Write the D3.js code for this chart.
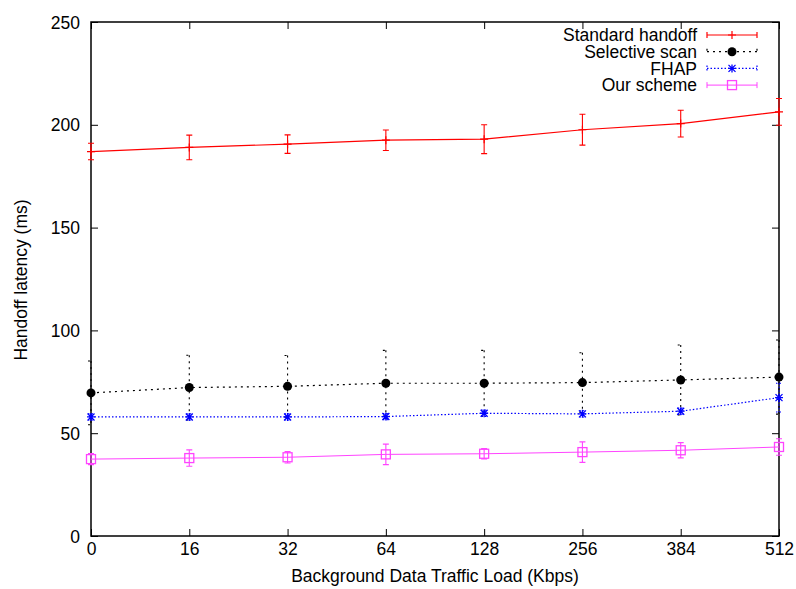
<!DOCTYPE html>
<html><head><meta charset="utf-8">
<script src="https://cdn.jsdelivr.net/npm/d3@7"></script>
<style>body{margin:0;background:#fff}svg{display:block}text{font-family:"Liberation Sans",Arial,sans-serif}</style>
</head><body><svg id="c" width="796" height="589"></svg>
<script>
const categories = ["0","16","32","64","128","256","384","512"];
const yTicks = [0,50,100,150,200,250];
const seriesNames = ["Standard handoff","Selective scan","FHAP","Our scheme"];
const standardVals = [187,189,190.6,192.5,193,197.6,200.6,206.3];
const standardErr  = [4,6,4.5,5,7,7.5,6.5,6.5];
const selectiveVals = [69.6,72.2,72.8,74.3,74.3,74.6,75.9,77.3];
const selectiveErr  = [15.5,15.7,15,16,16,14.5,17,18];
const fhapVals = [57.9,57.9,57.9,58.1,59.7,59.4,60.7,67.3];
const fhapErr  = [1.5,1.5,1.5,1.5,1.5,1.5,1.5,7];
const oursVals = [37.4,37.9,38.3,39.7,40,40.8,41.7,43.3];
const oursErr  = [2.7,4,2.8,5,2.5,5,3.7,4];

const FS = 17.5;
const svg = d3.select("#c");
const L=91,R=779,T=22,B=536;
const x = d3.scalePoint().domain(categories).range([L,R]);
const y = d3.scaleLinear().domain([0,250]).range([B,T]);

const series = [
  {name:seriesNames[0], vals:standardVals, err:standardErr, color:"#ff0000", dash:null, sym:"plus", width:1.2},
  {name:seriesNames[1], vals:selectiveVals, err:selectiveErr, color:"#000000", dash:"2,4", sym:"circle", width:1.2},
  {name:seriesNames[2], vals:fhapVals, err:fhapErr, color:"#0000ff", dash:"1.5,2", sym:"star", width:1.2},
  {name:seriesNames[3], vals:oursVals, err:oursErr, color:"#ff44ff", dash:null, sym:"square", width:1}
];

// axes
const gx = svg.append("g").attr("transform",`translate(0,${B})`)
  .call(d3.axisBottom(x).tickSize(-7).tickPadding(7));
const gxTop = svg.append("g").attr("transform",`translate(0,${T})`)
  .call(d3.axisTop(x).tickSize(-7).tickFormat(""));
const gy = svg.append("g").attr("transform",`translate(${L},0)`)
  .call(d3.axisLeft(y).tickValues(yTicks).tickSize(-7).tickPadding(11));
const gyR = svg.append("g").attr("transform",`translate(${R},0)`)
  .call(d3.axisRight(y).tickValues(yTicks).tickSize(-7).tickFormat(""));
[gx,gxTop,gy,gyR].forEach(g=>{g.select(".domain").remove();
  g.selectAll("text").attr("font-size",FS).attr("fill","#000").attr("font-family","Liberation Sans, Arial, sans-serif");
  g.selectAll("line").attr("stroke","#000");});
gy.selectAll("text").attr("dy","0.35em");
svg.append("rect").attr("x",L).attr("y",T).attr("width",R-L).attr("height",B-T)
  .attr("fill","none").attr("stroke","#000").attr("stroke-width",1.5);

svg.append("text").attr("x",(L+R)/2).attr("y",582).attr("text-anchor","middle").attr("font-size",FS).text("Background Data Traffic Load (Kbps)");
svg.append("text").attr("transform","translate(27,280) rotate(-90)").attr("text-anchor","middle").attr("font-size",FS).text("Handoff latency (ms)");

function symbol(g, s, cx, cy){
  if(s.sym==="plus"){
    g.append("path").attr("d",`M${cx-4},${cy}H${cx+4}M${cx},${cy-4}V${cy+4}`).attr("stroke",s.color).attr("stroke-width",1.2);
  } else if(s.sym==="circle"){
    g.append("circle").attr("cx",cx).attr("cy",cy).attr("r",4.5).attr("fill",s.color);
  } else if(s.sym==="star"){
    g.append("path").attr("d",`M${cx-4},${cy}H${cx+4}M${cx},${cy-4}V${cy+4}M${cx-3.5},${cy-3.5}L${cx+3.5},${cy+3.5}M${cx-3.5},${cy+3.5}L${cx+3.5},${cy-3.5}`).attr("stroke",s.color).attr("stroke-width",1.3);
  } else {
    g.append("rect").attr("x",cx-4.5).attr("y",cy-4.5).attr("width",9).attr("height",9).attr("fill","none").attr("stroke",s.color).attr("stroke-width",1.3);
  }
}

const line = d3.line().x((d,i)=>x(categories[i])).y(d=>y(d));
series.forEach(s=>{
  const g = svg.append("g");
  g.append("path").datum(s.vals).attr("d",line).attr("fill","none").attr("stroke",s.color)
    .attr("stroke-width",s.width).attr("stroke-dasharray",s.dash);
  s.vals.forEach((v,i)=>{
    const cx=x(categories[i]), y1=y(v+s.err[i]), y2=y(v-s.err[i]);
    g.append("path").attr("d",`M${cx},${y1}V${y2}M${cx-3},${y1}H${cx+3}M${cx-3},${y2}H${cx+3}`)
      .attr("fill","none").attr("stroke",s.color).attr("stroke-width",1.1).attr("stroke-dasharray",s.dash);
    symbol(g,s,cx,y(v));
  });
});

// legend
series.forEach((s,i)=>{
  const ly = 35 + i*16.7;
  const g = svg.append("g");
  g.append("text").attr("x",697).attr("y",ly).attr("dy","0.35em").attr("text-anchor","end").attr("font-size",FS).text(s.name);
  g.append("path").attr("d",`M707,${ly}H757M707,${ly-3}V${ly+3}M757,${ly-3}V${ly+3}`).attr("stroke",s.color)
    .attr("stroke-width",s.width).attr("stroke-dasharray",s.dash).attr("fill","none");
  symbol(g,s,732,ly);
});
</script></body></html>
